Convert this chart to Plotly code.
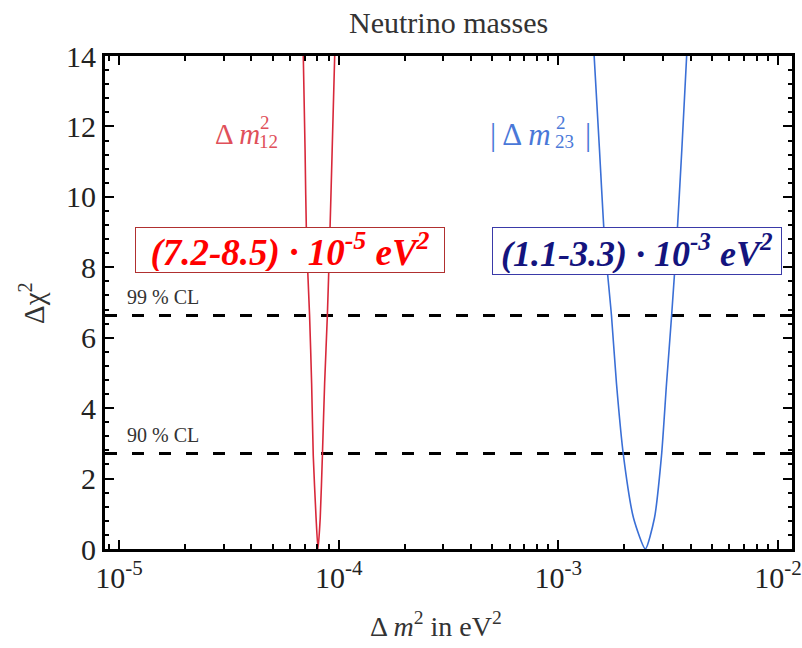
import plotly.graph_objects as go

# Δχ² profiles read along each branch (left branch, minimum, right branch)
chi2_levels = [14, 11.33, 8.76, 6.63, 4.70, 2.65, 0.88, 0, 0.88, 2.65, 4.70, 6.63, 8.76, 11.33, 14]
dm12_sq = [6.90e-5, 7.03e-5, 7.14e-5, 7.37e-5, 7.53e-5, 7.66e-5, 7.89e-5, 8.05e-5,
           8.24e-5, 8.43e-5, 8.63e-5, 8.88e-5, 9.10e-5, 9.34e-5, 9.59e-5]
dm23_sq = [1.456e-3, 1.54e-3, 1.625e-3, 1.746e-3, 1.84e-3, 1.98e-3, 2.20e-3, 2.49e-3,
           2.74e-3, 2.95e-3, 3.11e-3, 3.28e-3, 3.46e-3, 3.65e-3, 3.84e-3]

# confidence-level thresholds
cl_labels = ["99 % CL", "90 % CL"]
cl_values = [6.63, 2.71]

# axis ticks
x_major = [1e-5, 1e-4, 1e-3, 1e-2]
x_major_text = ["10<sup>-5</sup>", "10<sup>-4</sup>", "10<sup>-3</sup>", "10<sup>-2</sup>"]
x_minor = [9e-6] + [m * 10.0 ** e for e in (-5, -4, -3) for m in range(2, 10)]
y_major = [0, 2, 4, 6, 8, 10, 12, 14]

range_texts = ["(7.2-8.5) · 10<sup>-5</sup> eV<sup>2</sup>",
               "(1.1-3.3) · 10<sup>-3</sup> eV<sup>2</sup>"]

W, H = 802, 648
L, R, T, B = 105, 792, 56, 549  # plot-area edges in pixels

def px(x):
    return (x - L) / (R - L)

def py(y):
    return (B - y) / (B - T)

SERIF = "Liberation Serif"

fig = go.Figure()
fig.add_trace(go.Scatter(x=dm12_sq, y=chi2_levels, mode="lines",
                         line=dict(color="#d8283a", width=1.6, shape="spline", smoothing=0.6),
                         hoverinfo="skip"))
fig.add_trace(go.Scatter(x=dm23_sq, y=chi2_levels, mode="lines",
                         line=dict(color="#3a6fd6", width=1.6, shape="spline", smoothing=0.6),
                         hoverinfo="skip"))

for v in cl_values:
    fig.add_shape(type="line", xref="paper", x0=0, x1=1, yref="y", y0=v, y1=v,
                  line=dict(color="black", width=3, dash="12px,15px"), layer="below")

annotations = []
for lab, v in zip(cl_labels, cl_values):
    annotations.append(dict(text=lab, xref="paper", yref="y", x=px(125), y=v + 0.52,
                            xanchor="left", yanchor="middle", showarrow=False,
                            font=dict(family=SERIF, size=20, color="#333")))

def label_parts(parts, color):
    out = []
    for text, xp, yp, size in parts:
        out.append(dict(text=text, xref="paper", yref="paper", x=px(xp), y=py(yp),
                        xanchor="left", yanchor="middle", showarrow=False,
                        font=dict(family=SERIF, size=size, color=color)))
    return out

# curve labels, with stacked super/subscripts
annotations += label_parts([
    ("Δ <i>m</i>", 213, 134, 29),
    ("2", 258, 122, 19),
    ("12", 257, 141, 19),
], "#e0505a")
annotations += label_parts([
    ("| Δ <i>m</i>", 488, 134, 31),
    ("2", 554, 122, 19),
    ("23", 553, 141, 19),
    ("|", 583, 134, 31),
], "#4a78d8")

# boxed ranges
annotations.append(dict(text="<b><i>" + range_texts[0] + "</i></b>", xref="paper", yref="paper",
                        x=px(290), y=py(250), xanchor="center", yanchor="middle",
                        width=306, height=42, showarrow=False, align="center",
                        bordercolor="#b03030", borderwidth=1, borderpad=1, bgcolor="white",
                        font=dict(family=SERIF, size=37, color="#ff0000")))
annotations.append(dict(text="<b><i>" + range_texts[1] + "</i></b>", xref="paper", yref="paper",
                        x=px(637), y=py(251), xanchor="center", yanchor="middle",
                        width=286, height=44, showarrow=False, align="center",
                        bordercolor="#3a3aa8", borderwidth=1, borderpad=1, bgcolor="white",
                        font=dict(family=SERIF, size=36, color="#14147e")))

# titles
annotations.append(dict(text="Neutrino masses", xref="paper", yref="paper",
                        x=px(448), y=py(22), xanchor="center", yanchor="middle", showarrow=False,
                        font=dict(family=SERIF, size=30, color="#333")))
annotations.append(dict(text="Δ <i>m</i><sup>2</sup> in eV<sup>2</sup>", xref="paper", yref="paper",
                        x=px(436), y=py(624), xanchor="center", yanchor="middle", showarrow=False,
                        font=dict(family=SERIF, size=28, color="#333")))
annotations.append(dict(text="Δχ<sup>2</sup>", xref="paper", yref="paper", textangle=-90,
                        x=px(32), y=py(303), xanchor="center", yanchor="middle", showarrow=False,
                        font=dict(family=SERIF, size=29, color="#333")))

fig.update_layout(
    width=W, height=H,
    margin=dict(l=L, r=W - R, t=T, b=H - B, pad=0, autoexpand=False),
    paper_bgcolor="white", plot_bgcolor="white",
    showlegend=False,
    annotations=annotations,
    font=dict(family=SERIF, color="#222"),
)
fig.update_xaxes(
    type="log", range=[-5.064, -1.936], automargin=False,
    tickvals=x_major, ticktext=x_major_text,
    ticks="inside", ticklen=9, tickwidth=2, tickcolor="black",
    minor=dict(tickvals=x_minor, ticks="inside", ticklen=5, tickwidth=2, tickcolor="black"),
    showline=True, linewidth=3, linecolor="black", mirror="allticks",
    showgrid=False, zeroline=False,
    tickfont=dict(family=SERIF, size=30, color="#222"),
)
fig.update_yaxes(
    range=[0, 14], tickvals=y_major, automargin=False,
    ticks="inside", ticklen=9, tickwidth=2, tickcolor="black",
    minor=dict(dtick=0.4, tick0=0, ticks="inside", ticklen=4, tickwidth=2, tickcolor="black"),
    showline=True, linewidth=3, linecolor="black", mirror="allticks",
    showgrid=False, zeroline=False,
    tickfont=dict(family=SERIF, size=30, color="#222"),
)

fig.write_html("out.html")
